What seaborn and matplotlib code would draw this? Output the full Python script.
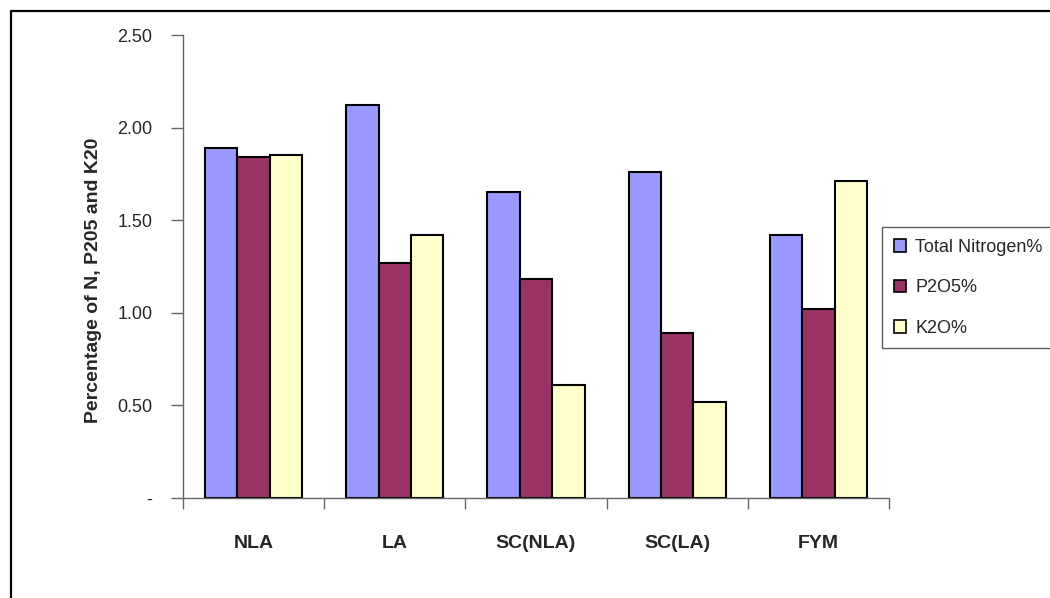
import seaborn as sns
import matplotlib.pyplot as plt
import pandas as pd
from matplotlib.lines import Line2D
from matplotlib.patches import Patch

# Data
samples = ["NLA", "LA", "SC(NLA)", "SC(LA)", "FYM"]
series_names = ["Total Nitrogen%", "P2O5%", "K2O%"]
nitrogen = [1.89, 2.12, 1.65, 1.76, 1.42]
p2o5 = [1.84, 1.27, 1.18, 0.89, 1.02]
k2o = [1.85, 1.42, 0.61, 0.52, 1.71]
colors = ["#9999FF", "#993366", "#FFFFCC"]

yticks = [0, 0.5, 1.0, 1.5, 2.0, 2.5]
ytick_labels = ["-", "0.50", "1.00", "1.50", "2.00", "2.50"]

# long-form table for seaborn
rows = []
for name, vals in zip(series_names, [nitrogen, p2o5, k2o]):
    for s, v in zip(samples, vals):
        rows.append({"Sample": s, "Series": name, "Value": v})
df = pd.DataFrame(rows)

sns.set_style("white")
plt.rcParams["font.family"] = ["Liberation Sans", "DejaVu Sans"]

fig = plt.figure(figsize=(10.5, 5.98), dpi=100)
ax = fig.add_axes([183 / 1050, 1 - 498 / 598, (889 - 183) / 1050, (498 - 35) / 598])

sns.barplot(data=df, x="Sample", y="Value", hue="Series", palette=colors,
            width=0.687, gap=0, saturation=1, edgecolor="black", linewidth=1.5,
            legend=False, ax=ax)

ax.set_xlim(-0.5, len(samples) - 0.5)
ax.set_ylim(0, 2.5)
ax.set_yticks(yticks)
ax.set_yticklabels(ytick_labels, fontsize=13)
ax.set_xlabel("")
ax.set_ylabel("Percentage of N, P205 and K20", fontsize=14, fontweight="bold")
ax.yaxis.set_label_coords(-0.115, 0.47)

# category labels centred, tick marks at group boundaries
ax.set_xticks(range(len(samples)))
ax.set_xticklabels(samples, fontsize=14, fontweight="bold")
ax.tick_params(axis="x", which="major", bottom=True, length=0, pad=27)
ax.set_xticks([i - 0.5 for i in range(len(samples) + 1)], minor=True)
ax.tick_params(axis="x", which="minor", bottom=True, direction="out", length=8,
               width=1, color="#666666")
ax.tick_params(axis="y", left=True, direction="out", length=9, width=1,
               color="#666666", pad=13)

for side in ["top", "right"]:
    ax.spines[side].set_visible(False)
for side in ["left", "bottom"]:
    ax.spines[side].set_color("#666666")
    ax.spines[side].set_linewidth(1)

handles = [Patch(facecolor=c, edgecolor="black", linewidth=1.2) for c in colors]
leg = fig.legend(handles, series_names, loc="upper left",
                 bbox_to_anchor=(882 / 1050, 1 - 227 / 598), fontsize=13,
                 frameon=True, fancybox=False, handlelength=0.7, handleheight=0.7,
                 handletextpad=0.5, labelspacing=1.3, borderpad=0.65,
                 borderaxespad=0)
leg.get_frame().set_edgecolor("#333333")
leg.get_frame().set_linewidth(1)

# outer frame lines (top and left)
fig.add_artist(Line2D([11 / 1050, 1], [1 - 11 / 598, 1 - 11 / 598], color="black", linewidth=1.6))
fig.add_artist(Line2D([11 / 1050, 11 / 1050], [0, 1 - 11 / 598], color="black", linewidth=1.6))

fig.savefig("out.png", dpi=100)
